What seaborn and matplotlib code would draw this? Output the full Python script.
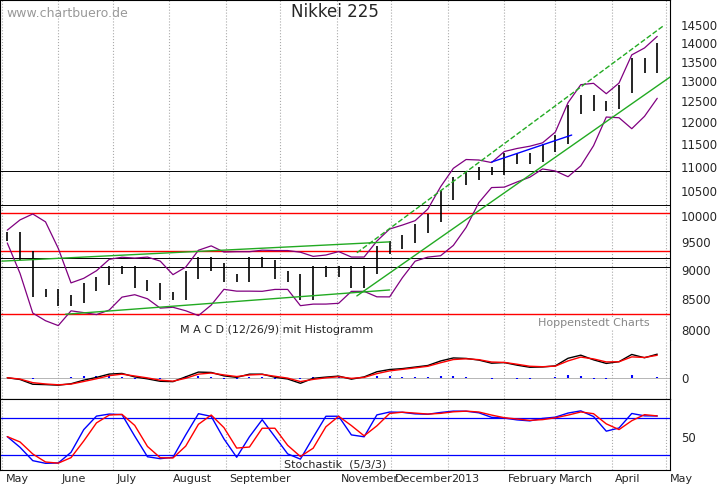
import numpy as np
import pandas as pd
import matplotlib
matplotlib.use("Agg")
import matplotlib.pyplot as plt
import seaborn as sns

sns.set_style("white")

weeks = pd.date_range("2012-05-04", periods=52, freq="W-FRI")
closes = [9600, 9250, 8600, 8600, 8450, 8500, 8700, 8800, 9000, 9000,
          8750, 8700, 8550, 8550, 8900, 9150, 9050, 8850, 8850, 9150,
          9100, 8900, 8850, 8550, 9000, 8950, 9000, 8750, 9000, 9350,
          9450, 9550, 9750, 9950, 10400, 10700, 10800, 10900, 10900, 11200,
          11150, 11200, 11400, 11600, 12300, 12550, 12350, 12400, 12800, 13500,
          13300, 13900]
red_levels = [8250, 9330, 10050]
black_levels = [9050, 9200, 10200, 10900]
month_starts = pd.date_range("2012-05-01", "2013-05-01", freq="MS")
month_labels = ["May", "June", "July", "August", "September", "", "November",
                "December", "2013", "February", "March", "April", "May"]
price_ticks = [8000, 8500, 9000, 9500, 10000, 10500, 11000, 11500, 12000,
               12500, 13000, 13500, 14000, 14500]

df = pd.DataFrame({"date": weeks, "close": closes})
prev = df["close"].shift(1).fillna(df["close"])
df["high"] = np.maximum(df["close"], prev) * 1.008
df["low"] = np.minimum(df["close"], prev) * 0.992
mid = df["close"].rolling(4, min_periods=1).mean()
sd = df["close"].rolling(4, min_periods=1).std().fillna(0)
df["bb_up"] = mid + 1.5 * sd + 120
df["bb_lo"] = mid - 1.5 * sd - 120
ema_f = df["close"].ewm(span=3).mean()
ema_s = df["close"].ewm(span=6).mean()
df["macd"] = ema_f - ema_s
df["signal"] = df["macd"].ewm(span=2).mean()
lo5 = df["low"].rolling(3, min_periods=1).min()
hi5 = df["high"].rolling(3, min_periods=1).max()
k = 100 * (df["close"] - lo5) / (hi5 - lo5)
df["k"] = k.rolling(2, min_periods=1).mean()
df["d"] = df["k"].rolling(2, min_periods=1).mean()

W, H = 723, 486
fig = plt.figure(figsize=(7.23, 4.86), dpi=100)
def ax_px(top, bottom):
    return fig.add_axes([0, 1 - bottom / H, 670 / W, (bottom - top) / H])
ax1 = ax_px(0, 340)
ax2 = ax_px(340, 399)
ax3 = ax_px(399, 470)
xlim = (pd.Timestamp("2012-04-30"), pd.Timestamp("2013-05-03"))

for ax in (ax1, ax2, ax3):
    ax.set_xlim(xlim)
    for m in month_starts:
        ax.axvline(m, color="#aaaaaa", ls=":", lw=0.8)
    ax.yaxis.tick_right()
    ax.tick_params(axis="y", length=0, labelsize=8.5, pad=8)
    ax.set_xticks([])
    for s in ax.spines.values():
        s.set_color("black")
        s.set_linewidth(0.8)
ax1.spines["bottom"].set_visible(False)
ax2.spines["top"].set_visible(False)

# main panel
ax1.set_yscale("log")
ax1.set_ylim(7846, 15224)
ax1.set_yticks(price_ticks)
ax1.set_yticklabels([str(t) for t in price_ticks])
ax1.yaxis.set_minor_locator(matplotlib.ticker.NullLocator())
for lv in red_levels:
    ax1.axhline(lv, color="red", lw=1)
for lv in black_levels:
    ax1.axhline(lv, color="black", lw=0.7)
ax1.vlines(df["date"], df["low"], df["high"], color="black", lw=1.2)
sns.lineplot(data=df, x="date", y="bb_up", ax=ax1, color="purple", lw=0.9)
sns.lineplot(data=df, x="date", y="bb_lo", ax=ax1, color="purple", lw=0.9)
g = "#22aa22"
ax1.plot([pd.Timestamp("2012-06-05"), pd.Timestamp("2012-11-30")], [8250, 8650], color=g, lw=1)
ax1.plot([pd.Timestamp("2012-05-01"), pd.Timestamp("2012-11-30")], [9150, 9500], color=g, lw=1)
ax1.plot([pd.Timestamp("2012-11-12"), pd.Timestamp("2013-05-03")], [8550, 13100], color=g, lw=1)
ax1.plot([pd.Timestamp("2012-11-12"), pd.Timestamp("2013-04-30")], [9300, 14500], color=g, lw=1, ls="--")
ax1.plot([pd.Timestamp("2013-01-25"), pd.Timestamp("2013-03-10")], [11100, 11700], color="blue", lw=1)
ax1.set_xlabel("")
ax1.set_ylabel("")
ax1.text(0.5, 0.95, "Nikkei 225", transform=ax1.transAxes, ha="center", fontsize=12)
ax1.text(0.01, 0.95, "www.chartbuero.de", transform=ax1.transAxes, color="#999999", fontsize=9)
ax1.text(0.97, 0.04, "Hoppenstedt Charts", transform=ax1.transAxes, ha="right",
         color="#888888", fontsize=8, bbox=dict(fc="white", ec="none", pad=1))

# MACD panel
ax2.axhline(0, color="#aaaaaa", lw=0.6)
ax2.vlines(df["date"], 0, df["macd"] - df["signal"], color="blue", lw=1.5)
sns.lineplot(data=df, x="date", y="macd", ax=ax2, color="black", lw=1)
sns.lineplot(data=df, x="date", y="signal", ax=ax2, color="red", lw=1)
mx = df["macd"].abs().max()
ax2.set_ylim(-mx * 0.9, mx * 1.6)
ax2.set_yticks([0])
ax2.set_xlabel("")
ax2.set_ylabel("")
fig.text(277 / W, 1 - 330 / H, "M A C D (12/26/9) mit Histogramm", ha="center",
         va="center", fontsize=8)

# Stochastic panel
ax3.axhline(80, color="blue", lw=0.9)
ax3.axhline(20, color="blue", lw=0.9)
sns.lineplot(data=df, x="date", y="k", ax=ax3, color="blue", lw=1)
sns.lineplot(data=df, x="date", y="d", ax=ax3, color="red", lw=1)
ax3.set_ylim(-5, 112)
ax3.set_yticks([50])
ax3.set_xlabel("")
ax3.set_ylabel("")
ax3.text(0.5, 0.03, "Stochastik  (5/3/3)", transform=ax3.transAxes, ha="center", fontsize=8)

for m, lab in zip(month_starts, month_labels):
    if m < xlim[1]:
        ax3.text(m + pd.Timedelta(days=2), -12, lab, fontsize=8, va="top")

fig.savefig("out.png", dpi=100)
